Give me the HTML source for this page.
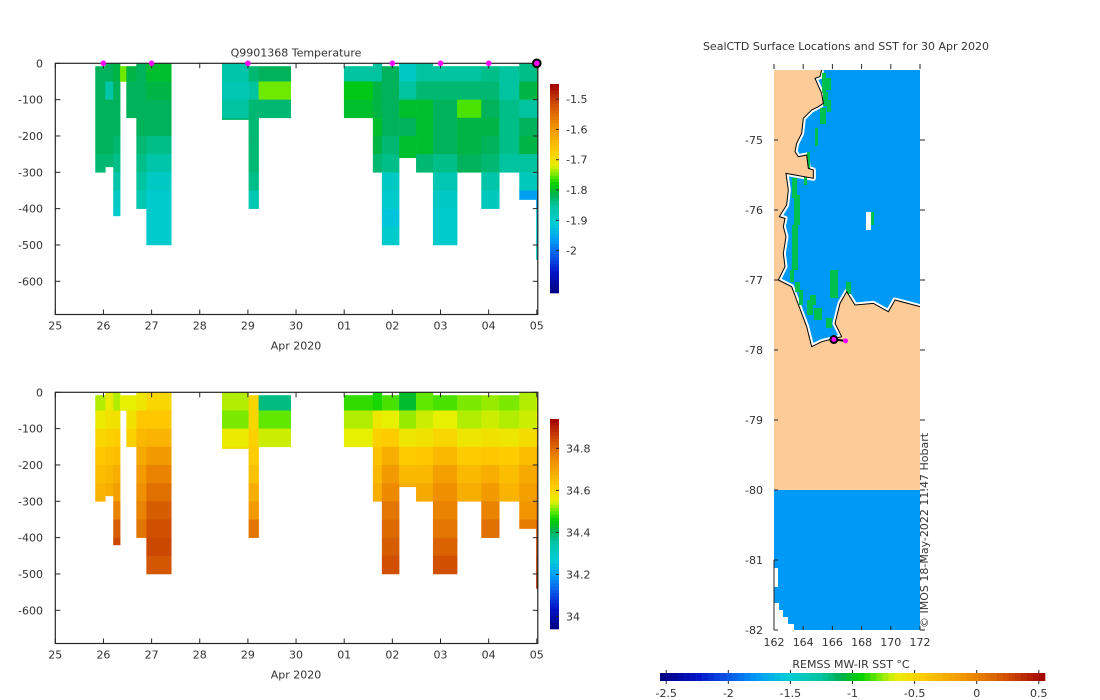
<!DOCTYPE html>
<html><head><meta charset="utf-8"><style>
body{margin:0;background:#fff;}
svg{display:block;font-family:"DejaVu Sans","Liberation Sans",sans-serif;}
text{fill:#333;font-size:11px;}
</style></head><body>
<svg id="fig" width="1100" height="700" viewBox="0 0 1100 700"></svg>
<script>
// ---------- data ----------
const profStart=[0.830,1.038,1.203,1.346,1.475,1.683,1.891,3.462,4.014,4.222,5.994,6.595,6.782,7.140,7.492,7.843,8.345,8.847,9.220,9.636,9.987];
const profEnd=[1.038,1.203,1.346,1.475,1.683,1.891,2.408,4.014,4.222,4.889,6.595,6.782,7.140,7.492,7.843,8.345,8.847,9.220,9.636,9.987,10.03];
const profTop=[8,0,0,8,8,0,0,0,8,8,8,0,8,0,0,8,8,8,8,0,0];
const profBottom=[300,285,420,50,150,400,500,155,400,150,150,300,500,260,300,500,300,400,300,375,540];
const binSize=50;
const tempVals=[
[-1.82,-1.82,-1.82,-1.82,-1.82,-1.83],
[-1.82,-1.86,-1.82,-1.82,-1.82,-1.83],
[-1.81,-1.82,-1.82,-1.82,-1.83,-1.84,-1.86,-1.89,-1.90],
[-1.75],
[-1.81,-1.82,-1.82],
[-1.82,-1.82,-1.82,-1.82,-1.83,-1.84,-1.85,-1.87],
[-1.80,-1.81,-1.82,-1.82,-1.84,-1.86,-1.89,-1.90,-1.90,-1.90],
[-1.86,-1.87,-1.85,-1.83],
[-1.83,-1.85,-1.83,-1.83,-1.83,-1.83,-1.84,-1.87],
[-1.82,-1.75,-1.83,-1.79],
[-1.85,-1.79,-1.80],
[-1.85,-1.81,-1.81,-1.80,-1.81,-1.83],
[-1.82,-1.82,-1.82,-1.82,-1.83,-1.84,-1.89,-1.90,-1.92,-1.90],
[-1.89,-1.85,-1.80,-1.82,-1.80,-1.80],
[-1.85,-1.83,-1.80,-1.80,-1.80,-1.83],
[-1.85,-1.83,-1.82,-1.82,-1.82,-1.84,-1.87,-1.89,-1.90,-1.90],
[-1.85,-1.83,-1.76,-1.81,-1.81,-1.82],
[-1.84,-1.83,-1.82,-1.81,-1.82,-1.83,-1.86,-1.88],
[-1.85,-1.85,-1.84,-1.84,-1.84,-1.85],
[-1.84,-1.81,-1.85,-1.82,-1.81,-1.85,-1.88,-1.96],
[-1.83,-1.80,-1.85,-1.82,-1.81,-1.85,-1.88,-1.96,-1.91,-1.91,-1.89]];
const salVals=[
[34.53,34.56,34.60,34.63,34.65,34.67],
[34.56,34.58,34.61,34.64,34.66,34.68],
[34.53,34.58,34.62,34.65,34.68,34.71,34.76,34.82,34.85],
[34.55],
[34.55,34.58,34.61],
[34.57,34.63,34.66,34.69,34.72,34.74,34.76,34.78],
[34.60,34.63,34.67,34.72,34.76,34.79,34.82,34.84,34.85,34.83],
[34.53,34.51,34.56,34.58],
[34.60,34.60,34.61,34.62,34.64,34.68,34.72,34.78],
[34.38,34.50,34.54,34.59],
[34.48,34.53,34.55],
[34.47,34.57,34.61,34.64,34.66,34.68],
[34.49,34.55,34.62,34.68,34.72,34.75,34.78,34.80,34.82,34.84],
[34.43,34.52,34.57,34.62,34.66,34.68],
[34.50,34.54,34.58,34.63,34.66,34.69],
[34.49,34.55,34.60,34.66,34.71,34.74,34.76,34.78,34.81,34.84],
[34.51,34.53,34.57,34.62,34.66,34.68],
[34.52,34.54,34.58,34.63,34.68,34.72,34.76,34.79],
[34.51,34.53,34.57,34.62,34.65,34.67],
[34.53,34.54,34.59,34.65,34.69,34.71,34.73,34.77],
[34.54,34.56,34.62,34.68,34.73,34.76,34.79,34.83,34.86,34.88,34.90]];
const dayLabels=["25","26","27","28","29","30","01","02","03","04","05"];
const depthTicks=[0,-100,-200,-300,-400,-500,-600];
const markerDays=[1,2,4,7,8,9];
const lastDay=10;
const tempTicks=[-1.5,-1.6,-1.7,-1.8,-1.9,-2];
const salTicks=[34.8,34.6,34.4,34.2,34];
const lonTicks=[162,164,166,168,170,172];
const latTicks=[-75,-76,-77,-78,-79,-80,-81,-82];
const sstTicks=[-2.5,-2,-1.5,-1,-0.5,0,0.5];
const stationLon=[166.1,166.9];
const stationLat=[-77.85,-77.87];

// ---------- helpers ----------
const NS="http://www.w3.org/2000/svg";
const svg=document.getElementById('fig');
function mk(tag,attrs,parent){const e=document.createElementNS(NS,tag);for(const k in attrs)e.setAttribute(k,attrs[k]);(parent||svg).appendChild(e);return e;}
function txt(x,y,s,anchor,parent,extra){const t=mk('text',Object.assign({x:x,y:y,'text-anchor':anchor||'middle'},extra||{}),parent);t.textContent=s;return t;}
const stops=[[0,[0,0,128]],[0.1,[0,20,200]],[0.17,[10,80,230]],[0.25,[0,153,245]],[0.33,[0,205,215]],[0.42,[0,196,160]],[0.47,[0,176,80]],[0.52,[0,208,0]],[0.56,[96,232,0]],[0.61,[230,240,0]],[0.68,[255,204,0]],[0.8,[240,144,0]],[0.9,[208,80,0]],[1,[160,0,0]]];
function cmap(f){f=Math.max(0,Math.min(1,f));for(let i=1;i<stops.length;i++){if(f<=stops[i][0]){const a=stops[i-1],b=stops[i];const t=(f-a[0])/(b[0]-a[0]);const c=a[1].map((v,j)=>Math.round(v+(b[1][j]-v)*t));return `rgb(${c[0]},${c[1]},${c[2]})`;}}return 'rgb(160,0,0)';}

const X0=55.3,X1=536.8;
function xDay(d){return X0+(X1-X0)*d/10;}

function panel(name,yTop0,yBot,vals,vmin,vmax,cbTop,cbBot,cbTicks,cbFmt,title,markers){
  const g=mk('g',{},svg);
  
  
  const pxPer=218/600;
  const yD=d=>yTop0+d*pxPer;
  for(let i=0;i<profStart.length;i++){
    const x0=xDay(profStart[i]),x1=Math.min(xDay(profEnd[i]),538);
    const v=vals[i];
    for(let b=0;b<v.length;b++){
      const d0=Math.max(profTop[i],b*binSize),d1=Math.min(profBottom[i],(b+1)*binSize);
      if(d1<=d0)continue;
      const r=mk('rect',{x:x0,y:yD(d0),width:x1-x0+0.3,height:yD(d1)-yD(d0)+0.3,fill:cmap((v[b]-vmin)/(vmax-vmin))},g);
      
      
    }
  }
  const ax=mk('rect',{x:X0,y:yTop0,width:X1-X0+1,height:yBot-yTop0,fill:'none',stroke:'#262626','stroke-width':1.2},g);
  
  
  depthTicks.forEach(t=>{const y=yD(-t);
    mk('line',{x1:X0,x2:X0+5,y1:y,y2:y,stroke:'#262626'},g);
    mk('line',{x1:X1+1,x2:X1-4,y1:y,y2:y,stroke:'#262626'},g);
    const l=txt(43,y+4,String(t),'end',g);
    
    
  });
  dayLabels.forEach((s,i)=>{const x=xDay(i);
    mk('line',{x1:x,x2:x,y1:yBot,y2:yBot-5,stroke:'#262626'},g);
    mk('line',{x1:x,x2:x,y1:yTop0,y2:yTop0+5,stroke:'#262626'},g);
    const l=txt(x,yBot+15,s,'middle',g);
    
    
  });
  const xl=txt(296,yBot+35,'Apr 2020','middle',g);
  
  
  if(title){const t=txt(296,yTop0-7,title,'middle',g);
    
    }
  const cb=mk('g',{},g);
  
  
  const n=64,h=(cbBot-cbTop)/n;
  for(let k=0;k<n;k++)mk('rect',{x:550,y:cbBot-(k+1)*h,width:9,height:h+0.3,fill:cmap((k+0.5)/n)},cb);
  cbTicks.forEach(t=>{const y=cbBot-(t-vmin)/(vmax-vmin)*(cbBot-cbTop);
    mk('line',{x1:559,x2:556,y1:y,y2:y,stroke:'#262626'},cb);
    const l=txt(566,y+4,cbFmt(t),'start',cb);
    
    
  });
  if(markers){
    markerDays.forEach(d=>{const m=mk('circle',{cx:xDay(d),cy:yTop0,r:2.8,fill:'#ff00ff'},g);
      
      });
    const m=mk('circle',{cx:xDay(lastDay),cy:yTop0,r:3.8,fill:'#ff00ff',stroke:'#000','stroke-width':2},g);
    
    
  }
}
panel('temperature-section',63.3,314.5,tempVals,-2.14,-1.45,84,293,tempTicks,t=>String(t),'Q9901368  Temperature',true);
panel('salinity-section',392.3,643.5,salVals,33.94,34.94,419,629,salTicks,t=>String(t),null,false);

// ---------- map ----------
const MX0=774,MX1=920,MY0=70,MY1=630;
const lonX=l=>MX0+(l-162)*(MX1-MX0)/10;
const latY=l=>140+(-75-l)*70;
const mg=mk('g',{},svg);


mk('rect',{x:MX0,y:MY0,width:MX1-MX0,height:MY1-MY0,fill:'#0099f5'},mg);
const coastZ=[[185,30],[180,50],[165,55],[185,100],[190,130],[175,140],[155,150],[130,175],[125,220],[110,250],[105,275],[115,290],[140,285],[145,325],[160,330],[160,355],[105,345],[78,340],[85,390],[80,435],[58,470],[75,475],[70,500],[78,530],[70,580],[75,620],[55,660],[95,680],[110,720],[125,760],[140,800],[155,860],[185,845],[245,830],[225,790],[240,730],[260,695],[285,735],[340,730],[385,755],[405,720],[480,740]];
const coast=coastZ.map(p=>[760+p[0]/3,60+p[1]/3]);
const cs=coast.map(p=>p.join(',')).join(' ');
mk('polyline',{points:cs,fill:'none',stroke:'#fff','stroke-width':5,'stroke-linejoin':'round'},mg);
const greens=[[822,73,4,20],[826,78,5,12],[823,92,5,14],[827,100,4,12],[820,108,6,16],[815,128,3,18],[807,152,3,22],[804,175,3,10],[792,178,5,20],[794,195,6,30],[792,225,6,45],[790,270,4,12],[795,282,5,10],[810,295,6,10],[799,290,4,15],[807,300,6,15],[814,308,8,12],[830,270,8,28],[846,282,5,12],[826,318,6,10],[836,318,8,6],[871,212,3,13]];
greens.forEach(r=>{const e=mk('rect',{x:r[0],y:r[1],width:r[2],height:r[3],fill:'#00c050'},mg);
  
  });
mk('rect',{x:866,y:212,width:5,height:18,fill:'#fff'},mg);
const land=mk('polygon',{points:`${MX0},${MY0} `+cs+` ${MX1},490 ${MX0},490`,fill:'#fdcb98'},mg);


mk('polyline',{points:cs,fill:'none',stroke:'#000','stroke-width':1},mg);
mk('polygon',{points:'774,568 778,568 778,587 774,587',fill:'#fff'},mg);
mk('polygon',{points:'774,603 779,603 779,610 783,610 783,617 788,617 788,624 794,624 794,630 774,630',fill:'#fff'},mg);
mk('line',{x1:774,x2:774,y1:560,y2:630,stroke:'#262626'},mg);
mk('line',{x1:lonX(stationLon[0]),y1:latY(stationLat[0]),x2:lonX(stationLon[1]),y2:latY(stationLat[1]),stroke:'#000','stroke-width':2},mg);
const s1=mk('circle',{cx:lonX(stationLon[1]),cy:latY(stationLat[1]),r:2.5,fill:'#ff00ff'},mg);


const s0=mk('circle',{cx:lonX(stationLon[0]),cy:latY(stationLat[0]),r:3.5,fill:'#ff00ff',stroke:'#000','stroke-width':2},mg);


lonTicks.forEach(l=>{const x=lonX(l);
  mk('line',{x1:x,x2:x,y1:MY1,y2:MY1-4,stroke:'#262626'},mg);
  mk('line',{x1:x,x2:x,y1:MY0-6,y2:MY0-1,stroke:'#262626'},mg);
  const t=txt(x,646,String(l),'middle',mg);
  
  });
latTicks.forEach(l=>{const y=latY(l);
  mk('line',{x1:MX0,x2:MX0+4,y1:y,y2:y,stroke:'#262626'},mg);
  mk('line',{x1:MX1,x2:MX1+5,y1:y,y2:y,stroke:'#262626'},mg);
  const t=txt(763,y+4,String(l),'end',mg);
  
  });
const mt=txt(846,50,'SealCTD Surface Locations and SST for 30 Apr 2020','middle',mg);


const cr=txt(0,0,'© IMOS 18-May-2022 11:47 Hobart','start',mg,{transform:'translate(928,628) rotate(-90)','font-size':'10px'});


const hb=mk('g',{},svg);


const HX0=660,HX1=1045,hn=64,vmn=-2.55,vmx=0.55;
for(let k=0;k<hn;k++)mk('rect',{x:HX0+k*(HX1-HX0)/hn,y:673,width:(HX1-HX0)/hn+0.3,height:8,fill:cmap((k+0.5)/hn)},hb);
sstTicks.forEach(t=>{const x=HX0+(t-vmn)/(vmx-vmn)*(HX1-HX0);
  mk('line',{x1:x,x2:x,y1:681,y2:684,stroke:'#262626'},hb);
  mk('line',{x1:x,x2:x,y1:670,y2:673,stroke:'#262626'},hb);
  const l=txt(x,697,String(t),'middle',hb);
  
  });
const hl=txt(851,668,'REMSS MW-IR SST °C','middle',hb);


</script>
</body></html>
